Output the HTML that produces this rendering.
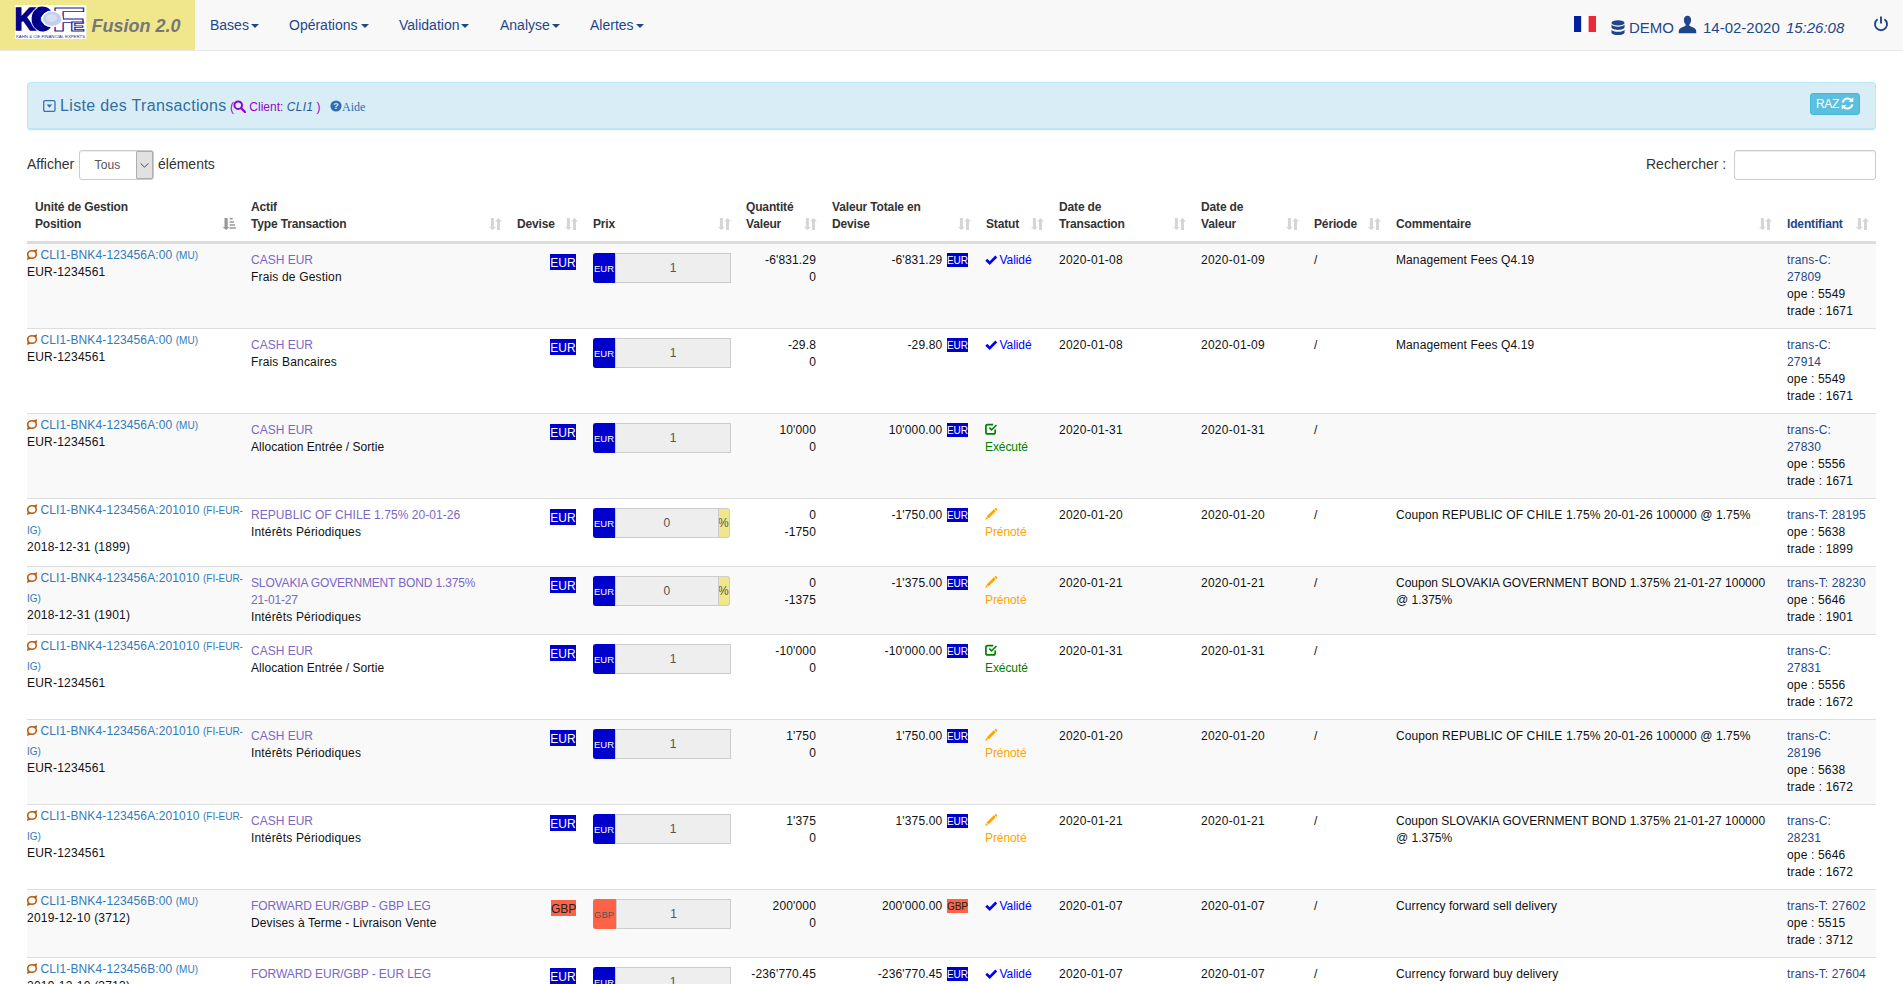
<!DOCTYPE html>
<html lang="fr">
<head>
<meta charset="utf-8">
<title>Fusion 2.0 - Liste des Transactions</title>
<style>
*{box-sizing:border-box}
html,body{margin:0;padding:0}
body{width:1903px;height:984px;overflow:hidden;background:#fff;color:#333;font-family:"Liberation Sans",Arial,sans-serif;font-size:14px;line-height:1.42857}
a{text-decoration:none}
/* navbar */
.nav{position:absolute;left:0;top:0;width:1903px;height:51px;background:#f8f8f8;border-bottom:1px solid #e7e7e7}
.brand{position:absolute;left:0;top:0;width:195px;height:50px;background:#f0e68c}
.logo{position:absolute;left:15px;top:5px;width:72px;height:34px}
.brand b{position:absolute;left:91.500px;top:15px;font-size:18px;line-height:22px;font-style:italic;color:#777;white-space:nowrap}
.menu{position:absolute;top:15px;font-size:14px;line-height:20px;color:#1f4788;white-space:nowrap}
.menu i{display:inline-block;width:0;height:0;margin-left:2px;vertical-align:middle;border-top:4px solid #1f4788;border-left:4px solid transparent;border-right:4px solid transparent}
.nr{position:absolute;color:#1f4788;white-space:nowrap}
/* panel heading */
.ph{position:absolute;left:27px;top:82px;width:1849px;height:48px;background:#d9edf7;border:1px solid #bce8f1;border-bottom-width:2px;border-radius:4px;box-shadow:0 1px 1px rgba(0,0,0,.05)}
.ph h3{position:absolute;left:32px;top:13px;margin:0;font-size:16px;line-height:20px;letter-spacing:.34px;font-weight:400;color:#2f6f9f;white-space:nowrap}
.ph .cl{position:absolute;left:202px;top:17px;font-size:12px;line-height:14px;color:#9900cc;white-space:nowrap}
.ph .cl em{color:#2a5a9a;letter-spacing:.3px}
.ph .aide{position:absolute;left:302px;top:17px;font-family:"Liberation Serif","Times New Roman",serif;font-size:12px;line-height:14px;color:#2e6db0;white-space:nowrap}
.raz{position:absolute;left:1782px;top:10px;width:50px;height:22px;background:#5bc0de;border:1px solid #46b8da;border-radius:3px;color:#fff;font-size:12px;line-height:20px;padding-left:5px;white-space:nowrap}
/* controls */
.ctl{position:absolute;top:154px;font-size:14px;line-height:20px;color:#333;white-space:nowrap}
.sel{position:absolute;left:79px;top:150px;width:75px;height:30px;border:1px solid #ccc;border-radius:3px;background:#fff;font-size:12px;line-height:28px;color:#555;padding-left:14.600px;letter-spacing:.1px;box-shadow:inset 0 1px 1px rgba(0,0,0,.075)}
.sel u{position:absolute;right:0;top:0;width:17px;height:28px;background:#e1e1e1;border:1px solid #adadad;border-radius:1px}
.srch{position:absolute;left:1734px;top:150px;width:142px;height:30px;border:1px solid #ccc;border-radius:3px;background:#fff;box-shadow:inset 0 1px 1px rgba(0,0,0,.075)}
/* table */
table{position:absolute;left:27px;top:191px;width:1849px;border-collapse:separate;border-spacing:0;table-layout:fixed;font-size:12px;line-height:17px;color:#111}
th{position:relative;text-align:left;vertical-align:bottom;padding:8px 30px 8px 8px;border-bottom:2px solid #ddd;font-weight:700;color:#333;white-space:nowrap;letter-spacing:-.15px}
th.idh{color:#1f4788}
th .srt{position:absolute;right:7px;bottom:11px;fill:#333;opacity:.2;overflow:visible}
th .srt.asc{opacity:.5}
td{vertical-align:top;padding:8px;border-top:1px solid #ddd;overflow:hidden}
tbody tr:nth-child(odd) td{background:#f9f9f9}
td.r{text-align:right}
td.q{letter-spacing:.15px}
td.d{letter-spacing:.26px}
td.cm{letter-spacing:.1px}
td.idc{letter-spacing:.16px}
.ty{letter-spacing:.17px}
td.c1{padding:0}
.c1 .l1{display:block;font-size:14px;line-height:1.42857;white-space:nowrap;padding-top:1px;margin-bottom:-1px}
.c1 .l1 a{font-size:12px;letter-spacing:.12px}
.c1 .ps{display:block;line-height:17px;letter-spacing:.22px}
td.c1 .lp{vertical-align:-1.500px;margin-right:2.500px}
a.lk{color:#337ab7}
a.lk small{font-size:10px;letter-spacing:0}
a.ac{color:#7a68c4}
a.id{color:#1f4788}
.cur{display:inline-block;font-size:12px;line-height:14px;color:#fff;padding:2px 0 0 0;margin:2px 1px 0 0;width:26px;text-align:center}
.eur{background:#0000cd;color:#fff}
.gbp{background:#ff6347;color:#222}
.cur.gbp{width:25px}
td.px{padding:9px 7px 0 8px}
.ig{display:flex;height:31px;width:138px}
.ig .ad{width:22px;height:30px;border:1px solid #ccc;border-right:0;border-radius:3px 0 0 3px;font-size:9.500px;line-height:30px;text-align:left;padding-left:0;overflow:hidden;white-space:nowrap}
.ig .ad.eur{border-color:#0000cd}
.ig .ad.gbp{border-color:#ff6347;color:#555;width:23px}
.ig .in.sh{flex:none;width:103.500px}
.ig .in{flex:1;height:30px;margin-top:0;border:1px solid #ccc;background:#eee;color:#555;text-align:center;line-height:29px;font-size:12px}
.ig .pc{width:11.600px;height:30px;background:#f0e68c;border:1px solid #ccc;border-left:0;border-radius:0 3px 3px 0;color:#555;font-size:12px;line-height:29px;text-align:center;overflow:hidden;text-indent:-1px}
.sc{display:inline-block;font-size:10px;line-height:12px;padding-top:2px;margin:0 2px 0 1px;vertical-align:0;letter-spacing:0}
td.st{padding-left:7px;letter-spacing:-.08px}
td.st.v{color:#00f}
td.st.e{color:#008000}
td.st.p{color:#ffa500}
td.st .ok{margin-right:2px;vertical-align:-1px}
td.st .chk,td.st .pen{vertical-align:-1px}
</style>
</head>
<body>
<div class="nav">
  <div class="brand">
    <svg class="logo" viewBox="0 0 72 34" width="72" height="34">
      <rect x="0" y="0" width="71.300" height="34" fill="#fff"/>
      <g font-family="Liberation Sans, Arial, sans-serif" font-weight="700">
        <text transform="translate(-0.600 25.300) scale(.94 1)" font-size="31" fill="#00008b" stroke="#00008b" stroke-width="1.600">K</text>
        <text transform="translate(18.400 23) scale(.9 1)" font-size="25" fill="#00008b" stroke="#00008b" stroke-width="7" stroke-linejoin="miter">C</text>
        <path d="M22.600 2.600C13.600 7.500 13.600 21 23.600 26" fill="none" stroke="#fff" stroke-width=".9"/>
        <text transform="translate(36.200 25.500) scale(1.680 1)" font-size="33.430" fill="#fff" stroke="#1a1a96" stroke-width="1.050" vector-effect="non-scaling-stroke">F</text>
        <text transform="translate(55.300 25.500) scale(1.640 1)" font-size="13.080" fill="#fff" stroke="#1a1a96" stroke-width="1.050" vector-effect="non-scaling-stroke">E</text>
        <ellipse cx="37.100" cy="13.900" rx="10.800" ry="8.500" fill="#fff"/>
        <ellipse cx="37.100" cy="13.900" rx="9.300" ry="7.100" fill="#c3d0ea"/>
        <ellipse cx="36.500" cy="13" rx="5.500" ry="4" fill="#d5def2"/>
        <text x="1" y="32.600" font-weight="400" font-size="4.400" fill="#2a2a9a" textLength="69" lengthAdjust="spacingAndGlyphs">KAHN &amp; CIE FINANCIAL EXPERTS</text>
      </g>
    </svg>
    <b>Fusion 2.0</b>
  </div>
  <a class="menu" style="left:210px">Bases<i></i></a>
  <a class="menu" style="left:289px">Opérations<i style="margin-left:4px"></i></a>
  <a class="menu" style="left:399px">Validation<i></i></a>
  <a class="menu" style="left:500px">Analyse<i></i></a>
  <a class="menu" style="left:590px">Alertes<i></i></a>
  <svg class="nr" style="left:1574px;top:16px" width="22" height="16" viewBox="0 0 22 16"><rect width="7.400" height="16" fill="#00209f"/><rect x="7.400" width="7.300" height="16" fill="#fff"/><rect x="14.600" width="7.400" height="16" fill="#ed2939"/></svg>
  <svg class="nr" style="left:1610.500px;top:20px" width="14" height="15.500" viewBox="0 0 15 16" preserveAspectRatio="none"><g fill="#1f4788"><ellipse cx="7.500" cy="3" rx="7" ry="2.700"/><path d="M.5 4.700c1 1.500 3.800 2.200 7 2.200s6-.7 7-2.200v2.800c0 1.500-3.100 2.700-7 2.700s-7-1.200-7-2.700z"/><path d="M.5 9.100c1 1.500 3.800 2.200 7 2.200s6-.7 7-2.200v2.800c0 1.500-3.100 2.700-7 2.700s-7-1.200-7-2.700z" transform="translate(0 .9)"/></g></svg>
  <span class="nr" style="left:1629px;top:18px;font-size:15px;line-height:20px">DEMO</span>
  <svg class="nr" style="left:1678px;top:15px" width="19" height="19" viewBox="0 0 19 19"><path fill="#1f4788" d="M9.500.8c2.300 0 3.600 1.800 3.600 4.300 0 1.800-.7 3.500-1.700 4.400v1.200c1.500.9 5.400 1.900 6.400 3.800.4.800.5 2.200.5 3.700H.7c0-1.500.1-2.900.5-3.700 1-1.900 4.900-2.900 6.400-3.800V9.500C6.600 8.600 5.900 6.900 5.900 5.100 5.900 2.600 7.200.8 9.500.8z"/></svg>
  <span class="nr" style="left:1703px;top:18px;font-size:15px;line-height:20px">14-02-2020 <em style="margin-left:2px">15:26:08</em></span>
  <svg class="nr" style="left:1873px;top:16px" width="16" height="16" viewBox="0 0 16 16"><path d="M4.600 3.300A6 6 0 1 0 11.400 3.300" fill="none" stroke="#1f4788" stroke-width="1.900"/><path d="M8 .5v7" stroke="#1f4788" stroke-width="1.900" fill="none"/></svg>
</div>

<div class="ph">
  <svg style="position:absolute;left:15px;top:17px" width="13" height="12" viewBox="0 0 13 12"><rect x=".7" y=".7" width="11.300" height="10.600" rx="1.300" fill="none" stroke="#3572b0" stroke-width="1.300"/><path d="M3.600 4.600h5.600L6.400 7.700z" fill="#3572b0"/></svg>
  <h3>Liste des Transactions</h3>
  <span class="cl">(<svg width="13" height="13" viewBox="0 0 13 13" style="vertical-align:-2px;margin-left:-1px"><circle cx="5.200" cy="5.200" r="3.800" fill="none" stroke="#9900cc" stroke-width="2"/><path d="M8 8l4 4" stroke="#9900cc" stroke-width="2.400" stroke-linecap="round"/></svg> Client: <em>CLI1</em> )</span>
  <span class="aide"><svg width="12" height="12" viewBox="0 0 12 12" style="vertical-align:-1px"><circle cx="6" cy="6" r="5.600" fill="#2e6db0"/><text x="6" y="9.300" text-anchor="middle" font-family="Liberation Sans, Arial, sans-serif" font-weight="700" font-size="9" fill="#d9edf7">?</text></svg>Aide</span>
  <span class="raz"><span style="letter-spacing:-.35px">RAZ</span> <svg width="13" height="13" viewBox="0 0 13 13" style="vertical-align:-2px;margin-left:-1px"><g fill="none" stroke="#fff" stroke-width="2.100"><path d="M1.700 5.600A5 5 0 0 1 10.200 3.100"/><path d="M11.300 7.400A5 5 0 0 1 2.800 9.900"/></g><path d="M12.300.3v4.700H7.600zM.7 12.700V8h4.700z" fill="#fff"/></svg></span>
</div>

<span class="ctl" style="left:27px">Afficher</span>
<span class="sel">Tous<u><svg width="15" height="26" viewBox="0 0 15 26" style="display:block"><path d="M3.600 11.300l3.900 3.900 3.900-3.900" fill="none" stroke="#444" stroke-width="1"/></svg></u></span>
<span class="ctl" style="left:158px">éléments</span>
<span class="ctl" style="left:1646px">Rechercher :</span>
<span class="srch"></span>

<table>
<colgroup><col style="width:216px"><col style="width:266px"><col style="width:76px"><col style="width:153px"><col style="width:86px"><col style="width:154px"><col style="width:73px"><col style="width:142px"><col style="width:113px"><col style="width:82px"><col style="width:391px"><col style="width:97px"></colgroup>
<thead><tr><th>Unité de Gestion<br>Position<svg class="srt asc" viewBox="0 0 13 12" width="13" height="12"><path d="M1.500 0h3.200v9h1.900L3.100 12-.3 9h1.800z"/><path d="M6.600 .1h3v1.400h-3zM6.600 3.200h4.300v1.500H6.600zM6.600 6.200H12v1.500H6.600zM6.600 9.300h6.300v1.500H6.600z"/></svg></th><th>Actif<br>Type Transaction<svg class="srt" viewBox="0 0 13 12" width="13" height="12"><path d="M1.900 0h3v9h2L3.400 12 0 9h1.900z"/><path d="M8 12h3V3.600h2L9.550 0 6.100 3.600H8z"/></svg></th><th>Devise<svg class="srt" viewBox="0 0 13 12" width="13" height="12"><path d="M1.900 0h3v9h2L3.400 12 0 9h1.900z"/><path d="M8 12h3V3.600h2L9.550 0 6.100 3.600H8z"/></svg></th><th>Prix<svg class="srt" viewBox="0 0 13 12" width="13" height="12"><path d="M1.900 0h3v9h2L3.400 12 0 9h1.900z"/><path d="M8 12h3V3.600h2L9.550 0 6.100 3.600H8z"/></svg></th><th>Quantité<br>Valeur<svg class="srt" viewBox="0 0 13 12" width="13" height="12"><path d="M1.900 0h3v9h2L3.400 12 0 9h1.900z"/><path d="M8 12h3V3.600h2L9.550 0 6.100 3.600H8z"/></svg></th><th>Valeur Totale en<br>Devise<svg class="srt" viewBox="0 0 13 12" width="13" height="12"><path d="M1.900 0h3v9h2L3.400 12 0 9h1.900z"/><path d="M8 12h3V3.600h2L9.550 0 6.100 3.600H8z"/></svg></th><th>Statut<svg class="srt" viewBox="0 0 13 12" width="13" height="12"><path d="M1.900 0h3v9h2L3.400 12 0 9h1.900z"/><path d="M8 12h3V3.600h2L9.550 0 6.100 3.600H8z"/></svg></th><th>Date de<br>Transaction<svg class="srt" viewBox="0 0 13 12" width="13" height="12"><path d="M1.900 0h3v9h2L3.400 12 0 9h1.900z"/><path d="M8 12h3V3.600h2L9.550 0 6.100 3.600H8z"/></svg></th><th>Date de<br>Valeur<svg class="srt" viewBox="0 0 13 12" width="13" height="12"><path d="M1.900 0h3v9h2L3.400 12 0 9h1.900z"/><path d="M8 12h3V3.600h2L9.550 0 6.100 3.600H8z"/></svg></th><th>Période<svg class="srt" viewBox="0 0 13 12" width="13" height="12"><path d="M1.900 0h3v9h2L3.400 12 0 9h1.900z"/><path d="M8 12h3V3.600h2L9.550 0 6.100 3.600H8z"/></svg></th><th>Commentaire<svg class="srt" viewBox="0 0 13 12" width="13" height="12"><path d="M1.900 0h3v9h2L3.400 12 0 9h1.900z"/><path d="M8 12h3V3.600h2L9.550 0 6.100 3.600H8z"/></svg></th><th class="idh">Identifiant<svg class="srt" viewBox="0 0 13 12" width="13" height="12"><path d="M1.900 0h3v9h2L3.400 12 0 9h1.900z"/><path d="M8 12h3V3.600h2L9.550 0 6.100 3.600H8z"/></svg></th></tr></thead>
<tbody>
<tr><td class="c1"><span class="l1"><svg class="lp" viewBox="0 0 11 12" width="11" height="12"><ellipse cx="5" cy="5.500" rx="4.300" ry="3.750" fill="none" stroke="#b65f14" stroke-width="1.600"/><path d="M6.300 1.400L10.200.2 9.400 3.700zM.8 7.400L-.1 11l3.900-1.400z" fill="#b65f14"/></svg><a class="lk">CLI1-BNK4-123456A:00 <small>(MU)</small></a></span><span class="ps">EUR-1234561</span></td><td><a class="ac" style="letter-spacing:0px">CASH EUR</a><br><span style="letter-spacing:0.17px">Frais de Gestion</span></td><td class="r"><span class="cur eur">EUR</span></td><td class="px"><div class="ig"><span class="ad eur">EUR</span><span class="in">1</span></div></td><td class="r q">-6'831.29<br>0</td><td class="r q">-6'831.29 <span class="sc eur">EUR</span></td><td class="st v"><svg class="ok" viewBox="0 0 12 10" width="12.500" height="10.400"><path d="M0.300 5.600L2.200 3.700l2.300 2.300L9.900 0.500l1.800 1.900L4.500 9.600z" fill="#00f"/></svg><span>Validé</span></td><td class="d">2020-01-08</td><td class="d">2020-01-09</td><td>/</td><td class="cm">Management Fees Q4.19</td><td class="idc"><a class="id">trans-C:<br>27809</a><br>ope : 5549<br>trade : 1671</td></tr>
<tr><td class="c1"><span class="l1"><svg class="lp" viewBox="0 0 11 12" width="11" height="12"><ellipse cx="5" cy="5.500" rx="4.300" ry="3.750" fill="none" stroke="#b65f14" stroke-width="1.600"/><path d="M6.300 1.400L10.200.2 9.400 3.700zM.8 7.400L-.1 11l3.900-1.400z" fill="#b65f14"/></svg><a class="lk">CLI1-BNK4-123456A:00 <small>(MU)</small></a></span><span class="ps">EUR-1234561</span></td><td><a class="ac" style="letter-spacing:0px">CASH EUR</a><br><span style="letter-spacing:0.17px">Frais Bancaires</span></td><td class="r"><span class="cur eur">EUR</span></td><td class="px"><div class="ig"><span class="ad eur">EUR</span><span class="in">1</span></div></td><td class="r q">-29.8<br>0</td><td class="r q">-29.80 <span class="sc eur">EUR</span></td><td class="st v"><svg class="ok" viewBox="0 0 12 10" width="12.500" height="10.400"><path d="M0.300 5.600L2.200 3.700l2.300 2.300L9.900 0.500l1.800 1.900L4.500 9.600z" fill="#00f"/></svg><span>Validé</span></td><td class="d">2020-01-08</td><td class="d">2020-01-09</td><td>/</td><td class="cm">Management Fees Q4.19</td><td class="idc"><a class="id">trans-C:<br>27914</a><br>ope : 5549<br>trade : 1671</td></tr>
<tr><td class="c1"><span class="l1"><svg class="lp" viewBox="0 0 11 12" width="11" height="12"><ellipse cx="5" cy="5.500" rx="4.300" ry="3.750" fill="none" stroke="#b65f14" stroke-width="1.600"/><path d="M6.300 1.400L10.200.2 9.400 3.700zM.8 7.400L-.1 11l3.900-1.400z" fill="#b65f14"/></svg><a class="lk">CLI1-BNK4-123456A:00 <small>(MU)</small></a></span><span class="ps">EUR-1234561</span></td><td><a class="ac" style="letter-spacing:0px">CASH EUR</a><br><span style="letter-spacing:0.04px">Allocation Entrée / Sortie</span></td><td class="r"><span class="cur eur">EUR</span></td><td class="px"><div class="ig"><span class="ad eur">EUR</span><span class="in">1</span></div></td><td class="r q">10'000<br>0</td><td class="r q">10'000.00 <span class="sc eur">EUR</span></td><td class="st e"><svg class="chk" viewBox="0 0 13 12" width="13" height="12"><path d="M10.2 6.5v2.7a1.7 1.7 0 0 1-1.7 1.7H2.6A1.7 1.7 0 0 1 .9 9.200V3.300a1.700 1.700 0 0 1 1.700-1.700h5.600" fill="none" stroke="#008000" stroke-width="1.7"/><path d="M3.8 5.2l1.100-1.100 1.700 1.700 4.300-4.300 1.100 1.100-5.400 5.400z" fill="#008000"/></svg><br><span>Exécuté</span></td><td class="d">2020-01-31</td><td class="d">2020-01-31</td><td>/</td><td class="cm"></td><td class="idc"><a class="id">trans-C:<br>27830</a><br>ope : 5556<br>trade : 1671</td></tr>
<tr><td class="c1"><span class="l1"><svg class="lp" viewBox="0 0 11 12" width="11" height="12"><ellipse cx="5" cy="5.500" rx="4.300" ry="3.750" fill="none" stroke="#b65f14" stroke-width="1.600"/><path d="M6.300 1.400L10.200.2 9.400 3.700zM.8 7.400L-.1 11l3.900-1.400z" fill="#b65f14"/></svg><a class="lk">CLI1-BNK4-123456A:201010 <small>(FI-EUR-<br>IG)</small></a></span><span class="ps">2018-12-31 (1899)</span></td><td><a class="ac" style="letter-spacing:0.06px">REPUBLIC OF CHILE 1.75% 20-01-26</a><br><span style="letter-spacing:0.17px">Intérêts Périodiques</span></td><td class="r"><span class="cur eur">EUR</span></td><td class="px"><div class="ig"><span class="ad eur">EUR</span><span class="in sh">0</span><span class="pc">%</span></div></td><td class="r q">0<br>-1750</td><td class="r q">-1'750.00 <span class="sc eur">EUR</span></td><td class="st p"><svg class="pen" viewBox="0 0 13 12" width="13" height="12"><path d="M0.3 11.800l0.800-2.700 1.900 1.900zM1.600 8.500l7.200-7.200 2 2-7.200 7.200zM9.400 0.800l0.800-0.600c0.400-0.300 0.800-0.200 1.100 0.100l0.800 0.800c0.300 0.300 0.300 0.800 0 1.100l-0.700 0.700z" fill="#ffa500"/></svg><br><span>Prénoté</span></td><td class="d">2020-01-20</td><td class="d">2020-01-20</td><td>/</td><td class="cm">Coupon REPUBLIC OF CHILE 1.75% 20-01-26 100000 @ 1.75%</td><td class="idc"><a class="id">trans-T: 28195</a><br>ope : 5638<br>trade : 1899</td></tr>
<tr><td class="c1"><span class="l1"><svg class="lp" viewBox="0 0 11 12" width="11" height="12"><ellipse cx="5" cy="5.500" rx="4.300" ry="3.750" fill="none" stroke="#b65f14" stroke-width="1.600"/><path d="M6.300 1.400L10.200.2 9.400 3.700zM.8 7.400L-.1 11l3.900-1.400z" fill="#b65f14"/></svg><a class="lk">CLI1-BNK4-123456A:201010 <small>(FI-EUR-<br>IG)</small></a></span><span class="ps">2018-12-31 (1901)</span></td><td><a class="ac" style="letter-spacing:-0.15px">SLOVAKIA GOVERNMENT BOND 1.375%<br>21-01-27</a><br><span style="letter-spacing:0.17px">Intérêts Périodiques</span></td><td class="r"><span class="cur eur">EUR</span></td><td class="px"><div class="ig"><span class="ad eur">EUR</span><span class="in sh">0</span><span class="pc">%</span></div></td><td class="r q">0<br>-1375</td><td class="r q">-1'375.00 <span class="sc eur">EUR</span></td><td class="st p"><svg class="pen" viewBox="0 0 13 12" width="13" height="12"><path d="M0.3 11.800l0.800-2.700 1.900 1.900zM1.600 8.500l7.200-7.200 2 2-7.200 7.200zM9.400 0.800l0.800-0.600c0.400-0.300 0.800-0.200 1.100 0.100l0.800 0.800c0.300 0.300 0.300 0.800 0 1.100l-0.700 0.700z" fill="#ffa500"/></svg><br><span>Prénoté</span></td><td class="d">2020-01-21</td><td class="d">2020-01-21</td><td>/</td><td class="cm0">Coupon SLOVAKIA GOVERNMENT BOND 1.375% 21-01-27 100000 @ 1.375%</td><td class="idc"><a class="id">trans-T: 28230</a><br>ope : 5646<br>trade : 1901</td></tr>
<tr><td class="c1"><span class="l1"><svg class="lp" viewBox="0 0 11 12" width="11" height="12"><ellipse cx="5" cy="5.500" rx="4.300" ry="3.750" fill="none" stroke="#b65f14" stroke-width="1.600"/><path d="M6.300 1.400L10.200.2 9.400 3.700zM.8 7.400L-.1 11l3.900-1.400z" fill="#b65f14"/></svg><a class="lk">CLI1-BNK4-123456A:201010 <small>(FI-EUR-<br>IG)</small></a></span><span class="ps">EUR-1234561</span></td><td><a class="ac" style="letter-spacing:0px">CASH EUR</a><br><span style="letter-spacing:0.04px">Allocation Entrée / Sortie</span></td><td class="r"><span class="cur eur">EUR</span></td><td class="px"><div class="ig"><span class="ad eur">EUR</span><span class="in">1</span></div></td><td class="r q">-10'000<br>0</td><td class="r q">-10'000.00 <span class="sc eur">EUR</span></td><td class="st e"><svg class="chk" viewBox="0 0 13 12" width="13" height="12"><path d="M10.2 6.5v2.7a1.7 1.7 0 0 1-1.7 1.7H2.6A1.7 1.7 0 0 1 .9 9.200V3.300a1.700 1.700 0 0 1 1.700-1.700h5.600" fill="none" stroke="#008000" stroke-width="1.7"/><path d="M3.8 5.2l1.100-1.100 1.700 1.700 4.300-4.300 1.100 1.100-5.400 5.400z" fill="#008000"/></svg><br><span>Exécuté</span></td><td class="d">2020-01-31</td><td class="d">2020-01-31</td><td>/</td><td class="cm"></td><td class="idc"><a class="id">trans-C:<br>27831</a><br>ope : 5556<br>trade : 1672</td></tr>
<tr><td class="c1"><span class="l1"><svg class="lp" viewBox="0 0 11 12" width="11" height="12"><ellipse cx="5" cy="5.500" rx="4.300" ry="3.750" fill="none" stroke="#b65f14" stroke-width="1.600"/><path d="M6.300 1.400L10.200.2 9.400 3.700zM.8 7.400L-.1 11l3.900-1.400z" fill="#b65f14"/></svg><a class="lk">CLI1-BNK4-123456A:201010 <small>(FI-EUR-<br>IG)</small></a></span><span class="ps">EUR-1234561</span></td><td><a class="ac" style="letter-spacing:0px">CASH EUR</a><br><span style="letter-spacing:0.17px">Intérêts Périodiques</span></td><td class="r"><span class="cur eur">EUR</span></td><td class="px"><div class="ig"><span class="ad eur">EUR</span><span class="in">1</span></div></td><td class="r q">1'750<br>0</td><td class="r q">1'750.00 <span class="sc eur">EUR</span></td><td class="st p"><svg class="pen" viewBox="0 0 13 12" width="13" height="12"><path d="M0.3 11.800l0.800-2.700 1.900 1.900zM1.600 8.500l7.200-7.200 2 2-7.200 7.200zM9.400 0.800l0.800-0.600c0.400-0.300 0.800-0.200 1.100 0.100l0.800 0.800c0.300 0.300 0.300 0.800 0 1.100l-0.700 0.700z" fill="#ffa500"/></svg><br><span>Prénoté</span></td><td class="d">2020-01-20</td><td class="d">2020-01-20</td><td>/</td><td class="cm">Coupon REPUBLIC OF CHILE 1.75% 20-01-26 100000 @ 1.75%</td><td class="idc"><a class="id">trans-C:<br>28196</a><br>ope : 5638<br>trade : 1672</td></tr>
<tr><td class="c1"><span class="l1"><svg class="lp" viewBox="0 0 11 12" width="11" height="12"><ellipse cx="5" cy="5.500" rx="4.300" ry="3.750" fill="none" stroke="#b65f14" stroke-width="1.600"/><path d="M6.300 1.400L10.200.2 9.400 3.700zM.8 7.400L-.1 11l3.900-1.400z" fill="#b65f14"/></svg><a class="lk">CLI1-BNK4-123456A:201010 <small>(FI-EUR-<br>IG)</small></a></span><span class="ps">EUR-1234561</span></td><td><a class="ac" style="letter-spacing:0px">CASH EUR</a><br><span style="letter-spacing:0.17px">Intérêts Périodiques</span></td><td class="r"><span class="cur eur">EUR</span></td><td class="px"><div class="ig"><span class="ad eur">EUR</span><span class="in">1</span></div></td><td class="r q">1'375<br>0</td><td class="r q">1'375.00 <span class="sc eur">EUR</span></td><td class="st p"><svg class="pen" viewBox="0 0 13 12" width="13" height="12"><path d="M0.3 11.800l0.800-2.700 1.900 1.900zM1.600 8.500l7.200-7.200 2 2-7.200 7.200zM9.400 0.800l0.800-0.600c0.400-0.300 0.800-0.200 1.100 0.100l0.800 0.800c0.300 0.300 0.300 0.800 0 1.100l-0.700 0.700z" fill="#ffa500"/></svg><br><span>Prénoté</span></td><td class="d">2020-01-21</td><td class="d">2020-01-21</td><td>/</td><td class="cm0">Coupon SLOVAKIA GOVERNMENT BOND 1.375% 21-01-27 100000 @ 1.375%</td><td class="idc"><a class="id">trans-C:<br>28231</a><br>ope : 5646<br>trade : 1672</td></tr>
<tr><td class="c1"><span class="l1"><svg class="lp" viewBox="0 0 11 12" width="11" height="12"><ellipse cx="5" cy="5.500" rx="4.300" ry="3.750" fill="none" stroke="#b65f14" stroke-width="1.600"/><path d="M6.300 1.400L10.200.2 9.400 3.700zM.8 7.400L-.1 11l3.900-1.400z" fill="#b65f14"/></svg><a class="lk">CLI1-BNK4-123456B:00 <small>(MU)</small></a></span><span class="ps">2019-12-10 (3712)</span></td><td><a class="ac" style="letter-spacing:-0.07px">FORWARD EUR/GBP - GBP LEG</a><br><span style="letter-spacing:0.11px">Devises à Terme - Livraison Vente</span></td><td class="r"><span class="cur gbp">GBP</span></td><td class="px"><div class="ig"><span class="ad gbp">GBP</span><span class="in">1</span></div></td><td class="r q">200'000<br>0</td><td class="r q">200'000.00 <span class="sc gbp">GBP</span></td><td class="st v"><svg class="ok" viewBox="0 0 12 10" width="12.500" height="10.400"><path d="M0.300 5.600L2.200 3.700l2.300 2.300L9.900 0.500l1.800 1.900L4.500 9.600z" fill="#00f"/></svg><span>Validé</span></td><td class="d">2020-01-07</td><td class="d">2020-01-07</td><td>/</td><td class="cm">Currency forward sell delivery</td><td class="idc"><a class="id">trans-T: 27602</a><br>ope : 5515<br>trade : 3712</td></tr>
<tr><td class="c1"><span class="l1"><svg class="lp" viewBox="0 0 11 12" width="11" height="12"><ellipse cx="5" cy="5.500" rx="4.300" ry="3.750" fill="none" stroke="#b65f14" stroke-width="1.600"/><path d="M6.300 1.400L10.200.2 9.400 3.700zM.8 7.400L-.1 11l3.900-1.400z" fill="#b65f14"/></svg><a class="lk">CLI1-BNK4-123456B:00 <small>(MU)</small></a></span><span class="ps">2019-12-10 (3713)</span></td><td><a class="ac" style="letter-spacing:-0.07px">FORWARD EUR/GBP - EUR LEG</a><br><span style="letter-spacing:0.11px">Devises à Terme - Livraison Achat</span></td><td class="r"><span class="cur eur">EUR</span></td><td class="px"><div class="ig"><span class="ad eur">EUR</span><span class="in">1</span></div></td><td class="r q">-236'770.45<br>0</td><td class="r q">-236'770.45 <span class="sc eur">EUR</span></td><td class="st v"><svg class="ok" viewBox="0 0 12 10" width="12.500" height="10.400"><path d="M0.300 5.600L2.200 3.700l2.300 2.300L9.900 0.500l1.800 1.900L4.500 9.600z" fill="#00f"/></svg><span>Validé</span></td><td class="d">2020-01-07</td><td class="d">2020-01-07</td><td>/</td><td class="cm">Currency forward buy delivery</td><td class="idc"><a class="id">trans-T: 27604</a><br>ope : 5515<br>trade : 3713</td></tr>
</tbody>
</table>
</body>
</html>
